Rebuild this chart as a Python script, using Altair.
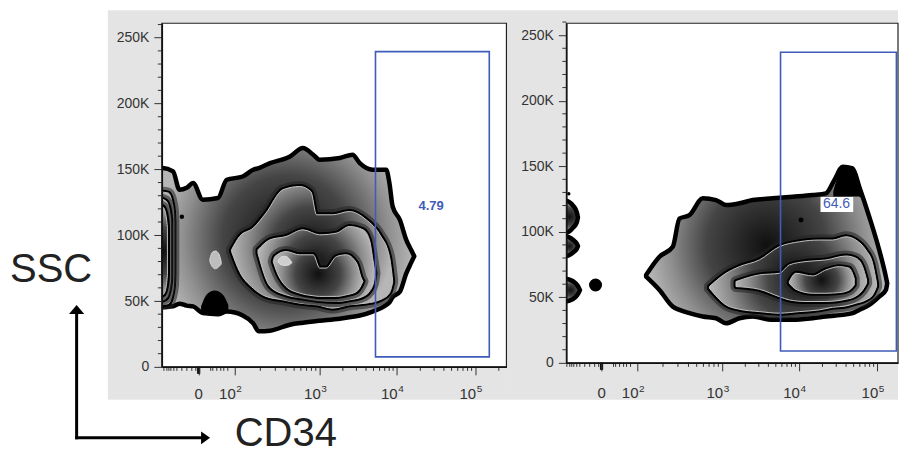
import altair as alt
import pandas as pd

FONT = "Liberation Sans"
INK = "#333333"
GATE_BLUE = "#3f5cb8"
PANEL_GRAY = "#e4e4e4"

# ---------------- axis ticks (x in logicle display units of CD34, y in K of SSC) ----------------
X_MAJOR = [1.55, 2, 3.06, 4.02, 5]
X_BASE_LABELS = ["0", "10", "10", "10", "10"]
X_EXP_LABELS = ["", "2", "3", "4", "5"]
X_MINOR = [1.116, 1.153, 1.178, 1.203, 1.24, 1.278, 1.34, 1.402, 1.464, 1.514,
           1.70, 1.726, 1.776, 1.826, 1.863, 1.913,
           2.319, 2.506, 2.638, 2.741, 2.825, 2.896, 2.957, 3.011,
           3.349, 3.518, 3.638, 3.731, 3.807, 3.871, 3.927, 3.976,
           4.315, 4.487, 4.61, 4.705, 4.782, 4.848, 4.905, 4.955, 5.295]
X_ZERO_MARKS = [1.538, 1.546, 1.554, 1.562]
Y_MAJOR = [0, 50, 100, 150, 200, 250]
Y_MINOR = [10, 20, 30, 40, 60, 70, 80, 90, 110, 120, 130, 140, 160, 170, 180, 190,
           210, 220, 230, 240, 260]

# ---------------- left panel contours (u = CD34 display units, top/bottom = SSC in K) ----------------
L_OUT_U = [1.05, 1.10, 1.23, 1.31, 1.40, 1.48, 1.60, 1.79, 1.90, 2.10, 2.23, 2.30, 2.44, 2.69,
           2.85, 2.98, 3.06, 3.31, 3.47, 3.56, 3.72, 3.89, 3.93, 3.97, 4.06, 4.14, 4.20, 4.24]
L_OUT_TOP = [151, 151, 148.5, 134.5, 136, 139.6, 127, 128.2, 142.1, 144.6, 149.7, 151, 154.7, 159.8,
             166.2, 161.1, 157.3, 158.6, 161.1, 154.7, 149.7, 149.7, 139.6, 121.9, 111.7, 96.5, 88.9, 84]
L_OUT_BOT = [45.4, 45.4, 46, 48, 46.5, 45.9, 40.8, 40, 42, 39, 33, 27, 27.5, 32,
             33.5, 34.5, 35, 36.5, 38, 39, 42, 47, 49, 53, 57, 71, 79, 84]

L_L2_U = [1.96, 2.06, 2.23, 2.39, 2.60, 2.81, 2.95, 3.02, 3.22, 3.43, 3.64, 3.81, 3.93, 3.97]
L_L2_TOP = [88.9, 99, 105.4, 116.8, 134.5, 137, 133, 115.5, 115.5, 118, 111.7, 100.3, 83.8, 66]
L_L2_BOT = [87.6, 72.4, 59.8, 53.5, 50.9, 48.4, 47.5, 47.1, 44.6, 47.1, 48.4, 50.9, 56, 64]

L_L3_U = [2.29, 2.44, 2.64, 2.85, 3.06, 3.27, 3.43, 3.60, 3.68, 3.73, 3.75]
L_L3_TOP = [88.9, 96.5, 99, 104.1, 100.3, 101.6, 106.6, 104.1, 96.5, 78.8, 71]
L_L3_BOT = [86.3, 61.1, 54.7, 52.2, 50.3, 49.6, 50.9, 53.5, 57.2, 63.6, 71]

L_L4_U = [2.48, 2.50, 2.64, 2.81, 2.98, 3.06, 3.14, 3.27, 3.39, 3.52, 3.58, 3.60]
L_L4_TOP = [80, 83.8, 87.6, 85.1, 85.1, 75, 75, 83.8, 85.1, 78.8, 67.4, 65]
L_L4_BOT = [80, 76.2, 61.1, 56, 54, 53.5, 53.5, 53.5, 54.7, 57.2, 62.3, 65]

COL2_U = [1.05, 1.17, 1.21, 1.235, 1.24]
COL2_TOP = [133, 132, 127, 118, 110]
COL2_BOT = [47, 48, 53, 62, 70]
COL3_U = [1.05, 1.14, 1.18, 1.20]
COL3_TOP = [128, 126, 120, 112]
COL3_BOT = [50, 52, 58, 66]
COL4_U = [1.05, 1.11, 1.145, 1.16]
COL4_TOP = [123, 121, 114, 106]
COL4_BOT = [53, 55, 61, 70]

SPOT1_U = [1.69, 1.72, 1.76, 1.80, 1.83]
SPOT1_TOP = [82, 87, 88, 86, 80]
SPOT1_BOT = [80, 76, 74.5, 76, 78]
SPOT2_U = [2.54, 2.58, 2.63, 2.68, 2.71]
SPOT2_TOP = [80.5, 83.5, 84, 82, 79.5]
SPOT2_BOT = [79.5, 77.5, 77, 77.5, 79]
BLACK1_U = [1.58, 1.65, 1.75, 1.85, 1.92]
BLACK1_TOP = [46, 55, 58, 55, 47]
BLACK1_BOT = [42, 41, 40, 41, 43]

LEFT_DOT_U = [1.34]
LEFT_DOT_K = [114]
LEFT_DOT_SIZE = [20]

# ---------------- right panel contours ----------------
R_OUT_U = [2.108, 2.275, 2.442, 2.525, 2.65, 2.817, 2.983, 3.108, 3.275, 3.442, 3.692, 3.942,
           4.192, 4.358, 4.463, 4.567, 4.692, 4.775, 4.9, 5.025, 5.108, 5.125]
R_OUT_TOP = [67.1, 81, 88.6, 110, 112.7, 125.5, 124.2, 120.4, 121.7, 124.2, 125.5, 126.7,
             128, 129.3, 139.4, 149.6, 148.3, 134.4, 111.5, 86.1, 65.8, 60.7]
R_OUT_BOT = [65.8, 55.6, 42.9, 40.4, 37.9, 35.3, 34, 30.2, 34, 35.3, 32.8, 32.8,
             34, 35.3, 36, 36.6, 37.9, 40.4, 44.2, 50.5, 55.6, 60.7]

R_L2_U = [2.9, 3.108, 3.275, 3.525, 3.775, 4.025, 4.275, 4.442, 4.608, 4.733, 4.858, 4.942, 4.992]
R_L2_TOP = [58.2, 68.3, 73.4, 78.5, 88.6, 92.4, 93.7, 93.7, 96.2, 93.7, 86.1, 75.9, 60.7]
R_L2_BOT = [56.9, 44.2, 40.9, 39.1, 37.9, 39.1, 40.4, 42.4, 43.4, 45.5, 48, 51.8, 58.2]

R_L3_U = [3.233, 3.525, 3.775, 3.9, 4.108, 4.358, 4.608, 4.733, 4.817, 4.867]
R_L3_TOP = [62, 67.1, 68.3, 74.7, 77.3, 78.5, 81.5, 79.8, 73.4, 63.2]
R_L3_BOT = [58.2, 56.1, 50.5, 48, 46.8, 46.8, 48.5, 51, 55.6, 60.7]

R_L4_U = [3.9, 3.983, 4.192, 4.358, 4.525, 4.65, 4.712]
R_L4_TOP = [62, 68.3, 66.3, 70.9, 73.4, 72.2, 64.5]
R_L4_BOT = [60.7, 56.1, 53.1, 53.1, 53.6, 55.6, 59.4]

RA_U = [1.05, 1.14, 1.20, 1.24, 1.255]
RA_TOP = [124.5, 123, 119.5, 115, 111]
RA_BOT = [98.5, 100, 103.5, 107, 111]
RB_U = [1.05, 1.14, 1.20, 1.24, 1.255]
RB_TOP = [97, 96, 93.5, 91, 89]
RB_BOT = [81, 82, 84.5, 87, 89]
RC_U = [1.05, 1.15, 1.22, 1.26, 1.28]
RC_TOP = [64.5, 63.5, 61, 58, 55.5]
RC_BOT = [46.5, 47.5, 50, 53, 55.5]
RBLACK_U = [4.45, 4.52, 4.6, 4.68, 4.76, 4.8]
RBLACK_TOP = [131, 144, 149.5, 148, 137, 128]
RBLACK_BOT = [127, 127, 127, 127, 127, 126]

RIGHT_DOT_U = [1.475, 1.14, 4.046]
RIGHT_DOT_K = [59.4, 129, 109]
RIGHT_DOT_SIZE = [170, 12, 25]

# ---------------- gates ----------------
LEFT_GATE = {"u": [3.756], "u2": [5.176], "k": [7.6], "k2": [239.4]}
LEFT_GATE_LABEL = {"u": [4.45], "k": [122.4], "t": ["4.79"]}
RIGHT_GATE = {"u": [3.79], "u2": [5.24], "k": [9.1], "k2": [237]}
RIGHT_GATE_LABEL = {"u": [4.49], "k": [121], "t": ["64.6"]}
RIGHT_LABEL_BOX = {"u": [4.29], "u2": [4.70], "k": [115], "k2": [126.5]}

GRAD = {"gradient": "radial", "stops": [
    {"offset": 0, "color": "#101010"},
    {"offset": 0.5, "color": "#454545"},
    {"offset": 0.8, "color": "#8e8e8e"},
    {"offset": 1, "color": "#b6b6b6"}]}

ONE = pd.DataFrame({"one": [0]})


def shapes_df(shapes):
    rows = []
    for name, level, us, tops, bots in shapes:
        for u, t, b in zip(us, tops, bots):
            rows.append({"shape": name, "level": level, "u": u, "k": t, "k2": b})
    return pd.DataFrame(rows)


def pix_rect(x0, x1, y0, y1, **kw):
    return alt.Chart(ONE).mark_rect(**kw).encode(
        x=alt.value(x0), x2=alt.value(x1), y=alt.value(y0), y2=alt.value(y1))


def panel(cfg):
    W, H = cfg["W"], cfg["H"]
    lo, hi = cfg["xdom"]
    xs = alt.Scale(domain=cfg["xdom"], nice=False, zero=False)
    ys = alt.Scale(domain=cfg["ydom"], nice=False, zero=False)
    X = alt.X("u:Q", scale=xs, axis=alt.Axis(
        values=X_MAJOR, labels=False, tickSize=8, tickColor=INK, tickWidth=1,
        domainColor="#111111", domainWidth=1.5, grid=False, zindex=1, title=None))
    Y = alt.Y("k:Q", scale=ys, axis=alt.Axis(
        values=Y_MAJOR, labelExpr="datum.value == 0 ? '0' : datum.value + 'K'",
        tickSize=8, tickColor=INK, tickWidth=1, labelPadding=5, labelFont=FONT,
        labelFontSize=14, labelColor=INK, domainColor="#111111", domainWidth=1.5,
        grid=False, zindex=1, title=None))

    layers = []
    cx0, cx1, cy0, cy1 = cfg["canvas"]
    gx0, gx1, gy0, gy1 = cfg["gray"]
    layers.append(pix_rect(cx0, cx1, cy0, cy1, fill="white", strokeWidth=0))
    layers.append(pix_rect(gx0, gx1, gy0, gy1, fill=PANEL_GRAY, strokeWidth=0))
    layers.append(pix_rect(0, W, 0, H, fill="white", stroke="#222222", strokeWidth=1.2))

    df = shapes_df(cfg["shapes"])

    def area(level, **mk):
        sub = df[df["level"] == level]
        return alt.Chart(sub).mark_area(clip=True, interpolate="monotone", strokeJoin="round", **mk).encode(
            x=X, y=Y, y2=alt.Y2("k2:Q"), detail="shape:N")

    layers.append(area("out", fill=GRAD, stroke="black", strokeWidth=4.5))
    if (df["level"] == "black").any():
        layers.append(area("black", fill="black", strokeWidth=0))
    if (df["level"] == "light").any():
        layers.append(area("light", fill="#bdbdbd", stroke="#d8d8d8", strokeWidth=1))
    for lev in ["l2", "l3", "l4"]:
        if (df["level"] == lev).any():
            layers.append(area(lev, fill="#222222", stroke="#222222", strokeWidth=11, strokeOpacity=0.55,
                               fillOpacity=0.55))
            layers.append(area(lev, fill="black", stroke="black", strokeWidth=5))
            layers.append(area(lev, fill=GRAD, stroke="#c4c4c4", strokeWidth=1))
    if (df["level"] == "light2").any():
        layers.append(area("light2", fill="#cfcfcf", stroke="#e0e0e0", strokeWidth=1))

    dots = pd.DataFrame({"u": cfg["dot_u"], "k": cfg["dot_k"], "s": cfg["dot_s"]})
    layers.append(alt.Chart(dots).mark_circle(color="black", opacity=1).encode(
        x=X, y=Y, size=alt.Size("s:Q", scale=None)))

    # minor ticks
    xm = pd.DataFrame({"u": [v for v in X_MINOR if lo <= v <= hi]})
    layers.append(alt.Chart(xm).mark_rule(color=INK, strokeWidth=1).encode(
        x=X, y=alt.value(H), y2=alt.value(H + 4)))
    xz = pd.DataFrame({"u": X_ZERO_MARKS})
    layers.append(alt.Chart(xz).mark_rule(color="#111111", strokeWidth=1.3).encode(
        x=X, y=alt.value(H), y2=alt.value(H + 7)))
    ym = pd.DataFrame({"k": Y_MINOR})
    layers.append(alt.Chart(ym).mark_rule(color=INK, strokeWidth=1).encode(
        y=Y, x=alt.value(-4), x2=alt.value(0)))

    # x labels
    lab = pd.DataFrame({"u": X_MAJOR, "t": X_BASE_LABELS, "e": X_EXP_LABELS})
    layers.append(alt.Chart(lab[lab["e"] == ""]).mark_text(
        font=FONT, fontSize=15, color=INK, align="center", baseline="alphabetic").encode(
        x=X, y=alt.value(H + cfg["lab_dy"]), text="t:N"))
    layers.append(alt.Chart(lab[lab["e"] != ""]).mark_text(
        font=FONT, fontSize=15, color=INK, align="right", baseline="alphabetic", dx=1).encode(
        x=X, y=alt.value(H + cfg["lab_dy"]), text="t:N"))
    layers.append(alt.Chart(lab[lab["e"] != ""]).mark_text(
        font=FONT, fontSize=10, color=INK, align="left", baseline="alphabetic", dx=1.5).encode(
        x=X, y=alt.value(H + cfg["exp_dy"]), text="e:N"))

    # gate
    layers.append(alt.Chart(pd.DataFrame(cfg["gate"])).mark_rect(
        fill="white", fillOpacity=0, stroke=GATE_BLUE, strokeWidth=1.6).encode(
        x=X, x2="u2:Q", y=Y, y2="k2:Q"))
    if cfg.get("label_box"):
        layers.append(alt.Chart(pd.DataFrame(cfg["label_box"])).mark_rect(
            fill="white", strokeWidth=0).encode(x=X, x2="u2:Q", y=Y, y2="k2:Q"))
    layers.append(alt.Chart(pd.DataFrame(cfg["gate_label"])).mark_text(
        font=FONT, fontSize=cfg["gl_size"], fontWeight=cfg["gl_weight"], color=GATE_BLUE,
        align="center", baseline="middle").encode(x=X, y=Y, text="t:N"))

    layers.extend(cfg.get("extra", []))
    return alt.layer(*layers).properties(width=W, height=H)


# annotations (left panel, pixel offsets relative to its plot area)
UP_HEAD = "M0,-1.2L1.9,1.05L-1.9,1.05Z"
RIGHT_HEAD = "M1.2,0L-1.05,1.6L-1.05,-1.6Z"
annot = [
    alt.Chart(ONE).mark_text(text="SSC", font=FONT, fontSize=40, color="#222222",
                             align="left", baseline="alphabetic").encode(
        x=alt.value(-152), y=alt.value(259)),
    alt.Chart(ONE).mark_text(text="CD34", font=FONT, fontSize=40, color="#222222",
                             align="left", baseline="alphabetic").encode(
        x=alt.value(73), y=alt.value(423)),
    alt.Chart(ONE).mark_rule(color="black", strokeWidth=3).encode(
        x=alt.value(-85.3), y=alt.value(290), y2=alt.value(416.5)),
    alt.Chart(ONE).mark_rule(color="black", strokeWidth=3).encode(
        x=alt.value(-86.8), x2=alt.value(42), y=alt.value(415)),
    alt.Chart(ONE).mark_point(shape=UP_HEAD, size=64, filled=True, color="black", opacity=1).encode(
        x=alt.value(-85.3), y=alt.value(287)),
    alt.Chart(ONE).mark_point(shape=RIGHT_HEAD, size=64, filled=True, color="black", opacity=1).encode(
        x=alt.value(43.5), y=alt.value(415)),
]

left_cfg = {
    "W": 345, "H": 344, "xdom": [1.09, 5.39], "ydom": [0, 261],
    "canvas": (-154, 349, -15, 420), "gray": (-54, 349, -13, 377),
    "lab_dy": 32, "exp_dy": 25,
    "shapes": [
        ("L_OUT", "out", L_OUT_U, L_OUT_TOP, L_OUT_BOT),
        ("BLACK1", "black", BLACK1_U, BLACK1_TOP, BLACK1_BOT),
        ("SPOT1", "light", SPOT1_U, SPOT1_TOP, SPOT1_BOT),
        ("L_L2", "l2", L_L2_U, L_L2_TOP, L_L2_BOT),
        ("COL2", "l2", COL2_U, COL2_TOP, COL2_BOT),
        ("L_L3", "l3", L_L3_U, L_L3_TOP, L_L3_BOT),
        ("COL3", "l3", COL3_U, COL3_TOP, COL3_BOT),
        ("L_L4", "l4", L_L4_U, L_L4_TOP, L_L4_BOT),
        ("COL4", "l4", COL4_U, COL4_TOP, COL4_BOT),
        ("SPOT2", "light2", SPOT2_U, SPOT2_TOP, SPOT2_BOT),
    ],
    "dot_u": LEFT_DOT_U, "dot_k": LEFT_DOT_K, "dot_s": LEFT_DOT_SIZE,
    "gate": LEFT_GATE, "gate_label": LEFT_GATE_LABEL, "gl_size": 13, "gl_weight": "bold",
    "extra": annot,
}

right_cfg = {
    "W": 332, "H": 340, "xdom": [1.11, 5.26], "ydom": [0, 259.1],
    "canvas": (-58.5, 332, -15, 380), "gray": (-58.5, 332, -13, 377),
    "lab_dy": 35, "exp_dy": 29,
    "shapes": [
        ("R_OUT", "out", R_OUT_U, R_OUT_TOP, R_OUT_BOT),
        ("RA", "out", RA_U, RA_TOP, RA_BOT),
        ("RB", "out", RB_U, RB_TOP, RB_BOT),
        ("RC", "out", RC_U, RC_TOP, RC_BOT),
        ("RBLACK", "black", RBLACK_U, RBLACK_TOP, RBLACK_BOT),
        ("R_L2", "l2", R_L2_U, R_L2_TOP, R_L2_BOT),
        ("R_L3", "l3", R_L3_U, R_L3_TOP, R_L3_BOT),
        ("R_L4", "l4", R_L4_U, R_L4_TOP, R_L4_BOT),
    ],
    "dot_u": RIGHT_DOT_U, "dot_k": RIGHT_DOT_K, "dot_s": RIGHT_DOT_SIZE,
    "gate": RIGHT_GATE, "gate_label": RIGHT_GATE_LABEL, "gl_size": 14, "gl_weight": "normal",
    "label_box": RIGHT_LABEL_BOX,
}

chart = alt.hconcat(panel(left_cfg), panel(right_cfg), spacing=60, bounds="flush").properties(
    padding=0
).configure(font=FONT, background="white").configure_view(strokeWidth=0)

chart.save("out.html", embed_options={"renderer": "svg", "actions": False})
